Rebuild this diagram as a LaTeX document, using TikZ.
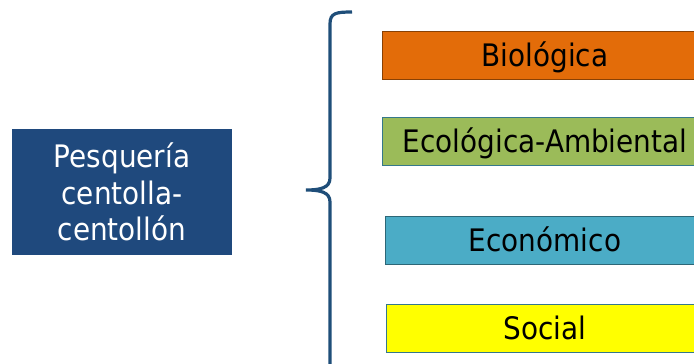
\documentclass[tikz,border=0pt]{standalone}
\usepackage{fontspec}
\setmainfont{DejaVu Sans}[FakeStretch=0.9]
\usepackage{xcolor}
\usetikzlibrary{positioning}

\definecolor{bluebox}{HTML}{1F497D}
\definecolor{bracecol}{HTML}{1F4E79}
\definecolor{bioorange}{HTML}{E36C09}
\definecolor{ecogreen}{HTML}{9BBB59}
\definecolor{econblue}{HTML}{4BACC6}
\definecolor{socyellow}{HTML}{FFFF00}

\begin{document}
\begin{tikzpicture}[x=1pt,y=-1pt,
    dimbox/.style={draw,line width=0.8pt,minimum height=48pt,inner sep=0pt,
        text height=29.5pt,text depth=6pt,
        font=\fontsize{31}{36}\selectfont,text=black},
    mainbox/.style={fill=bluebox,text=white,minimum width=220pt,minimum height=126pt,
        align=center,inner sep=0pt,font=\fontsize{31}{36.5}\selectfont}]
    \clip (0,0) rectangle (694,364);
    \useasboundingbox (0,0) rectangle (694,364);

    % fishery box on the left
    \node[mainbox] (pesca) at (122,192) {Pesquería\\centolla-\\centollón};

    % the four dimensions
    \node[dimbox,fill=bioorange,draw=bioorange!60!black,minimum width=326pt] (bio) at (545,55) {Biológica};
    \node[dimbox,fill=ecogreen,draw=econblue!70!black,minimum width=326pt] (eco) at (545,141) {Ecológica-Ambiental};
    \node[dimbox,fill=econblue,draw=econblue!60!black,minimum width=320pt] (econ) at (545,240) {Económico};
    \node[dimbox,fill=socyellow,draw=econblue!70!black,minimum width=318pt] (soc) at (545,328) {Social};

    % brace joining them
    \draw[bracecol,line width=3.2pt]
        (352,12) .. controls (336,12) and (330,13) .. (330,24) -- (330,178)
        .. controls (330,188) and (320,190) .. (306,190)
        .. controls (320,190) and (330,192) .. (330,202) -- (330,370);
\end{tikzpicture}
\end{document}
